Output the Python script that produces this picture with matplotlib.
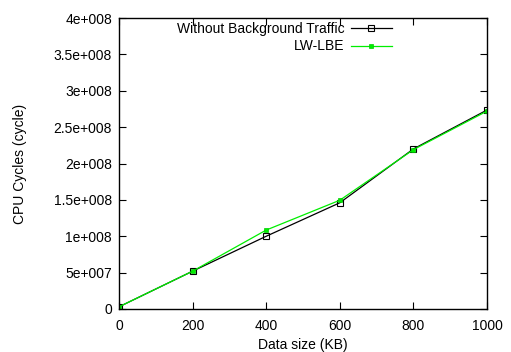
import matplotlib
matplotlib.use("Agg")
import matplotlib.pyplot as plt

plt.rcParams['font.family'] = ['Liberation Sans', 'DejaVu Sans']

data_size = [0, 200, 400, 600, 800, 1000]
without_bg = [3e6, 5.2e7, 1.0e8, 1.46e8, 2.2e8, 2.735e8]
lw_lbe = [3e6, 5.2e7, 1.085e8, 1.495e8, 2.19e8, 2.72e8]
yticks = [0, 5e7, 1e8, 1.5e8, 2e8, 2.5e8, 3e8, 3.5e8, 4e8]
ytick_labels = ['0', '5e+007', '1e+008', '1.5e+008', '2e+008', '2.5e+008', '3e+008', '3.5e+008', '4e+008']
xticks = [0, 200, 400, 600, 800, 1000]

fig = plt.figure(figsize=(5.11, 3.52), dpi=100)
ax = fig.add_axes([119/511, 1-309/352, (487-119)/511, (309-18)/352])

ax.plot(data_size, without_bg, color='black', lw=0.9, marker='s', markersize=4,
        markerfacecolor='none', markeredgecolor='black', markeredgewidth=0.8,
        label='Without Background Traffic')
ax.plot(data_size, lw_lbe, color='#00ee00', lw=0.9, marker='s', markersize=3.5,
        markerfacecolor='#00ee00', markeredgecolor='#00cc00', markeredgewidth=0.5,
        label='LW-LBE')

ax.set_xlim(0, 1000)
ax.set_ylim(0, 4e8)
ax.set_xticks(xticks)
ax.set_yticks(yticks)
ax.set_yticklabels(ytick_labels)
ax.tick_params(direction='in', top=True, right=True, length=5, width=0.8, labelsize=10, pad=5)
ax.tick_params(axis='x', pad=7)
for s in ax.spines.values():
    s.set_linewidth(1.0)
ax.set_xlabel('Data size (KB)', fontsize=10, labelpad=4)
ax.set_ylabel('CPU Cycles (cycle)', fontsize=10, labelpad=19)

leg = ax.legend(loc='upper right', bbox_to_anchor=(0.767, 1.02), frameon=False, fontsize=10,
                markerfirst=False, handlelength=2.9, handletextpad=0.5, labelspacing=0.25,
                borderaxespad=0.3)
for t in leg.get_texts():
    t.set_ha('right')
leg._legend_box.align = 'right'

fig.savefig('out.png', dpi=100)
